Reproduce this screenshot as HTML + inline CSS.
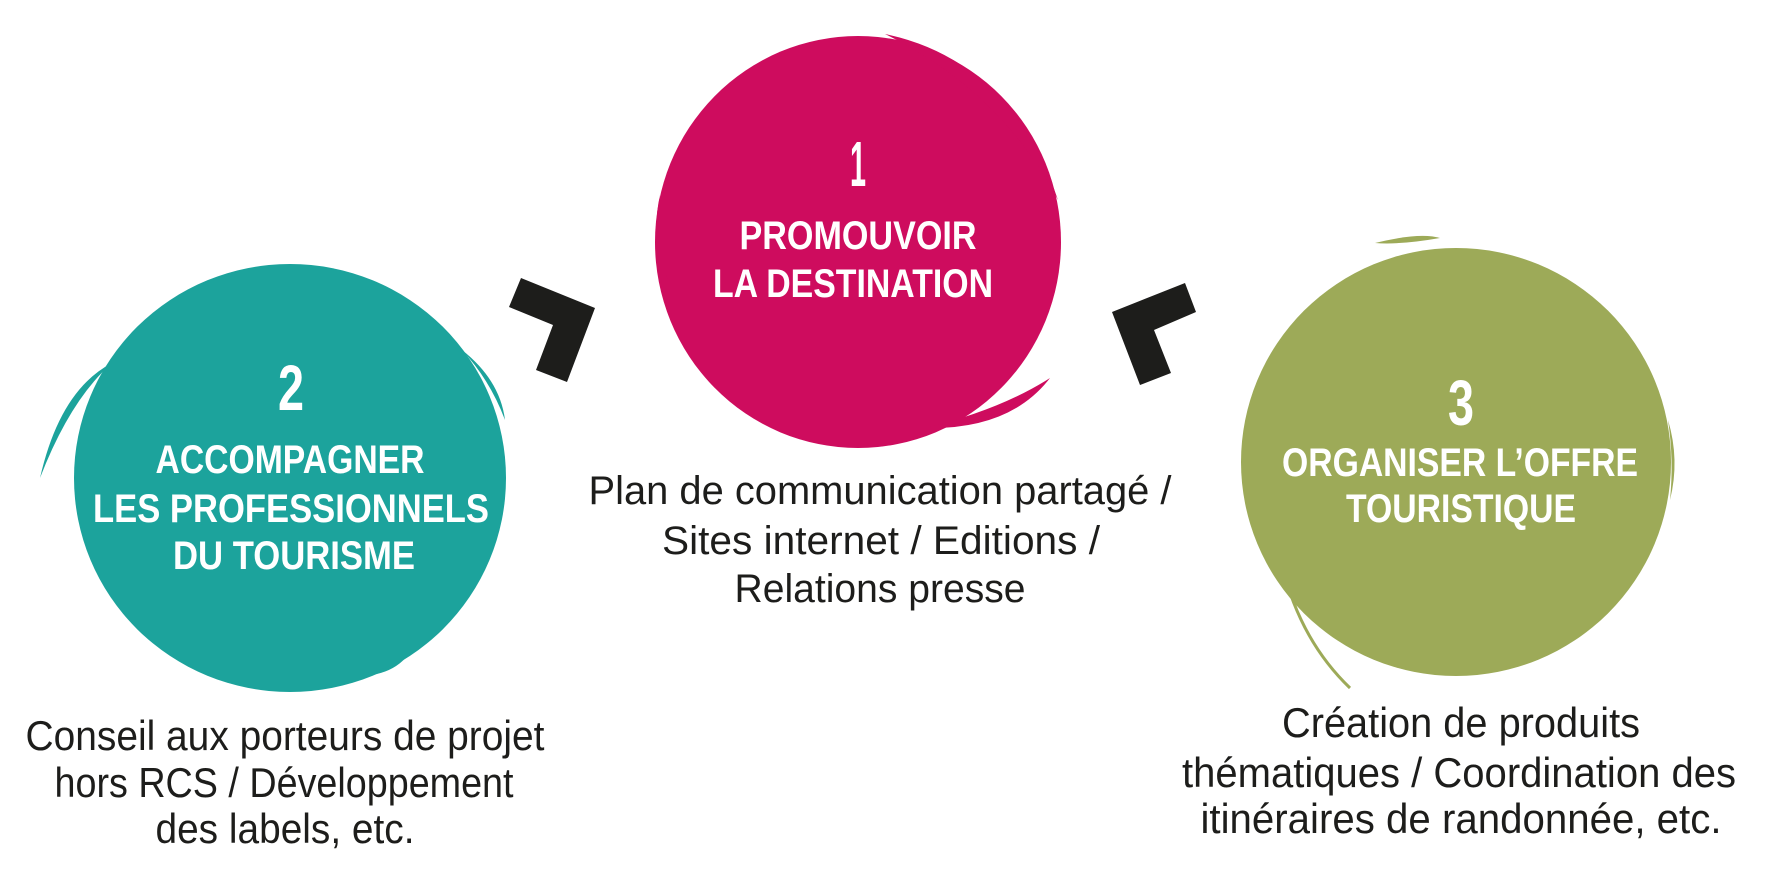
<!DOCTYPE html>
<html><head><meta charset="utf-8"><style>
html,body{margin:0;padding:0;background:#fff;}
svg{display:block;}
.t{font-family:"Liberation Sans",sans-serif;font-weight:bold;fill:#fff;}
.b{font-family:"Liberation Sans",sans-serif;fill:#1d1d1b;}
</style></head><body>
<svg width="1765" height="878" viewBox="0 0 1765 878" xmlns="http://www.w3.org/2000/svg">
<!-- pink -->
<ellipse cx="858" cy="242" rx="203" ry="206" fill="#ce0c5e"/>
<path d="M885 34 Q1010 60 1058 200 Q1000 90 885 34Z" fill="#ce0c5e"/>
<path d="M1050 378 Q1010 430 925 428 Q1000 410 1050 378Z" fill="#ce0c5e"/>
<path d="M660 195 Q655 240 668 280 Q650 240 660 195Z" fill="#ce0c5e"/>
<!-- teal -->
<ellipse cx="290" cy="478" rx="216" ry="214" fill="#1ca39c"/>
<path d="M40 478 Q60 390 112 363 Q70 400 40 478Z" fill="#1ca39c"/>
<path d="M462 350 Q500 380 505 420 Q490 380 462 350Z" fill="#1ca39c"/>
<path d="M350 676 Q390 670 408 655 Q390 678 350 676Z" fill="#1ca39c"/>
<!-- green -->
<ellipse cx="1456" cy="462" rx="215" ry="214" fill="#9daa58"/>
<path d="M1375 243 Q1420 232 1440 238 Q1400 245 1375 243Z" fill="#9daa58"/>
<path d="M1282 565 Q1300 640 1350 688 Q1300 640 1282 565Z" fill="#9daa58" stroke="#9daa58" stroke-width="3"/>
<path d="M1668 420 Q1680 460 1670 500 Q1674 460 1668 420Z" fill="#9daa58"/>
<!-- chevrons -->
<polygon points="509,307 521,278 595,308 567,382 536,370 553,325" fill="#1d1d1b"/>
<polygon points="1112,312 1185,283 1196,312 1154,330 1171,373 1140,385" fill="#1d1d1b"/>
<!-- pink text -->
<text class="t" x="858" y="186" text-anchor="middle" font-size="64" textLength="16" lengthAdjust="spacingAndGlyphs">1</text>
<text class="t" x="858" y="249" text-anchor="middle" font-size="40" textLength="237" lengthAdjust="spacingAndGlyphs">PROMOUVOIR</text>
<text class="t" x="853" y="297" text-anchor="middle" font-size="40" textLength="280" lengthAdjust="spacingAndGlyphs">LA DESTINATION</text>
<!-- teal text -->
<text class="t" x="291" y="410" text-anchor="middle" font-size="64" textLength="26" lengthAdjust="spacingAndGlyphs">2</text>
<text class="t" x="290" y="473" text-anchor="middle" font-size="40" textLength="269" lengthAdjust="spacingAndGlyphs">ACCOMPAGNER</text>
<text class="t" x="291" y="522" text-anchor="middle" font-size="40" textLength="396" lengthAdjust="spacingAndGlyphs">LES PROFESSIONNELS</text>
<text class="t" x="294" y="569" text-anchor="middle" font-size="40" textLength="242" lengthAdjust="spacingAndGlyphs">DU TOURISME</text>
<!-- green text -->
<text class="t" x="1461" y="425" text-anchor="middle" font-size="64" textLength="26" lengthAdjust="spacingAndGlyphs">3</text>
<text class="t" x="1460" y="476" text-anchor="middle" font-size="40" textLength="356" lengthAdjust="spacingAndGlyphs">ORGANISER L’OFFRE</text>
<text class="t" x="1461" y="522" text-anchor="middle" font-size="40" textLength="230" lengthAdjust="spacingAndGlyphs">TOURISTIQUE</text>
<!-- middle text -->
<text class="b" x="880" y="504" text-anchor="middle" font-size="40" textLength="583" lengthAdjust="spacingAndGlyphs">Plan de communication partagé /</text>
<text class="b" x="881" y="554" text-anchor="middle" font-size="40" textLength="438" lengthAdjust="spacingAndGlyphs">Sites internet / Editions /</text>
<text class="b" x="880" y="602" text-anchor="middle" font-size="40" textLength="291" lengthAdjust="spacingAndGlyphs">Relations presse</text>
<!-- bottom left -->
<text class="b" x="285" y="750" text-anchor="middle" font-size="42" textLength="519" lengthAdjust="spacingAndGlyphs">Conseil aux porteurs de projet</text>
<text class="b" x="284" y="797" text-anchor="middle" font-size="42" textLength="459" lengthAdjust="spacingAndGlyphs">hors RCS / Développement</text>
<text class="b" x="285" y="843" text-anchor="middle" font-size="42" textLength="259" lengthAdjust="spacingAndGlyphs">des labels, etc.</text>
<!-- bottom right -->
<text class="b" x="1461" y="737" text-anchor="middle" font-size="42" textLength="358" lengthAdjust="spacingAndGlyphs">Création de produits</text>
<text class="b" x="1459" y="787" text-anchor="middle" font-size="42" textLength="554" lengthAdjust="spacingAndGlyphs">thématiques / Coordination des</text>
<text class="b" x="1461" y="833" text-anchor="middle" font-size="42" textLength="521" lengthAdjust="spacingAndGlyphs">itinéraires de randonnée, etc.</text>
</svg>
</body></html>
